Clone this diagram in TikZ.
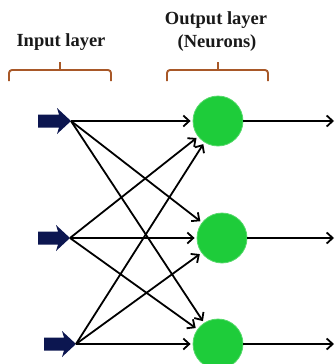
\documentclass[tikz,border=0pt]{standalone}
\usepackage{fontspec}
\setmainfont{Liberation Serif}
\usetikzlibrary{arrows.meta}
\definecolor{navy}{RGB}{12,22,80}
\definecolor{neurongreen}{RGB}{30,204,58}
\definecolor{bracebrown}{RGB}{168,88,40}
\tikzset{
  lbl/.style={font=\fontsize{18.5}{20}\selectfont\bfseries, text=black!90, inner sep=0pt},
  brace/.style={draw=bracebrown, line width=1.9pt, rounded corners=3pt},
  neuron/.style={circle, fill=neurongreen, draw=neurongreen!75!white, line width=0.8pt, minimum size=50pt, inner sep=0pt},
  conn/.style={line width=1.8pt, -{Straight Barb[length=6pt,width=11pt,line width=1.8pt]}, shorten >=2pt},
  inarrow/.style={fill=navy}
}
\begin{document}
\begin{tikzpicture}[x=1pt,y=-1pt]
\useasboundingbox (0,0) rectangle (335,364);
\clip (0,0) rectangle (335,364);
% labels
\node[lbl] (tin) at (61,42) {Input layer};
\node[lbl] (tout1) at (216,20) {Output layer};
\node[lbl] (tout2) at (217,43) {(Neurons)};
% braces
\draw[brace] (9,81) -- (9,70) -- (111,70) -- (111,81);
\draw[draw=bracebrown, line width=1.9pt] (60,70) -- (60,62);
\draw[brace] (167,81) -- (167,70) -- (268,70) -- (268,81);
\draw[draw=bracebrown, line width=1.9pt] (218,70) -- (218,62);
% input arrows
\coordinate (i1) at (71,121);
\coordinate (i2) at (70,238);
\coordinate (i3) at (76,344);
\foreach \c/\l in {i1/33, i2/32, i3/32}{
  \fill[inarrow] ([shift={(-\l,-6.5)}]\c) -- ([shift={(-12,-6.5)}]\c) -- ([shift={(-14,-13)}]\c) -- (\c)
    -- ([shift={(-14,13)}]\c) -- ([shift={(-12,6.5)}]\c) -- ([shift={(-\l,6.5)}]\c) -- cycle;
}
% neurons
\node[neuron] (n1) at (218,121) {};
\node[neuron] (n2) at (222,238) {};
\node[neuron] (n3) at (218,344) {};
% outputs
\coordinate (o1) at (334,121);
\coordinate (o2) at (334,238);
\coordinate (o3) at (334,344);
% connections
\foreach \i in {i1,i2,i3}{
  \foreach \n in {n1,n2,n3}{
    \draw[conn] (\i) -- (\n);
  }
}
\draw[conn, shorten >=0pt] (n1) -- (o1);
\draw[conn, shorten >=0pt] (n2) -- (o2);
\draw[conn, shorten >=0pt] (n3) -- (o3);
\end{tikzpicture}
\end{document}
